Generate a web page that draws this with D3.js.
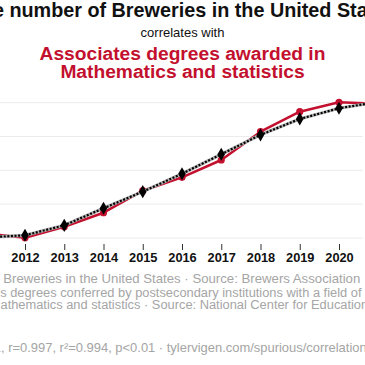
<!DOCTYPE html>
<html>
<head>
<meta charset="utf-8">
<script src="https://cdn.jsdelivr.net/npm/d3@7"></script>
<style>
  html, body { margin:0; padding:0; background:#fff; overflow:hidden; }
  svg { display:block; font-family:"Liberation Sans", Arial, Helvetica, sans-serif; }
</style>
</head>
<body>
<svg id="chart" width="365" height="365"></svg>
<script>
// data
const years = [2011, 2012, 2013, 2014, 2015, 2016, 2017, 2018, 2019, 2020, 2021];
const breweries = [2030, 2160, 2750, 3760, 4740, 5800, 6950, 8100, 9040, 9670, 10050];
const degrees = [1066, 1004, 1167, 1374, 1699, 1897, 2153, 2571, 2867, 3006, 2984];
const gridTicks = [2000, 4000, 6000, 8000, 10000];
const yearTicks = [2012, 2013, 2014, 2015, 2016, 2017, 2018, 2019, 2020];

const red = '#c3102e';
const svg = d3.select('#chart');
const W = 365;

// scales
const x = d3.scaleLinear().domain([2012, 2020]).range([25, 339]);
const y1 = d3.scaleLinear().domain([2000, 10000]).range([238, 102.7]);
const y2 = d3.scaleLinear().domain([1000, 3000]).range([238, 102.7]);

// titles
svg.append('text').attr('x', W/2).attr('y', 16.5).attr('text-anchor','middle')
  .attr('font-size', 19.8).attr('font-weight','bold').attr('fill','#111')
  .text('The number of Breweries in the United States');
svg.append('text').attr('x', W/2).attr('y', 37).attr('text-anchor','middle')
  .attr('font-size', 13).attr('fill','#111').text('correlates with');
['Associates degrees awarded in', 'Mathematics and statistics'].forEach((t,i) => {
  svg.append('text').attr('x', W/2).attr('y', 60 + i*17.6).attr('text-anchor','middle')
    .attr('font-size', 19.2).attr('font-weight','bold').attr('fill', red).text(t);
});

// gridlines
svg.append('g').selectAll('line').data(gridTicks).enter().append('line')
  .attr('x1', 0).attr('x2', 363).attr('y1', d=>y1(d)).attr('y2', d=>y1(d))
  .attr('stroke','#ececec').attr('stroke-width',1);

// x axis (no domain line)
const xAxis = svg.append('g').attr('transform','translate(0,244)')
  .call(d3.axisBottom(x).tickValues(yearTicks).tickFormat(d3.format('d')).tickSize(6).tickPadding(3));
xAxis.select('.domain').remove();
xAxis.selectAll('line').attr('stroke','#333');
xAxis.selectAll('text').attr('font-size', 12.8).attr('font-weight','bold').attr('fill','#111')
  .attr('font-family','"Liberation Sans", Arial, sans-serif');

// red series
const redLine = d3.line().x((d,i)=>x(years[i])).y(d=>y2(d));
svg.append('path').datum(degrees).attr('d', redLine)
  .attr('fill','none').attr('stroke', red).attr('stroke-width', 2.5).attr('stroke-linejoin','round');
svg.append('g').selectAll('circle').data(degrees).enter().append('circle')
  .attr('cx',(d,i)=>x(years[i])).attr('cy', d=>y2(d)).attr('r', 3.6).attr('fill', red);

// black series: grey halo under a dotted line
const blackLine = d3.line().x((d,i)=>x(years[i])).y(d=>y1(d));
svg.append('path').datum(breweries).attr('d', blackLine)
  .attr('fill','none').attr('stroke','#b0b0b0').attr('stroke-width', 3.2);
svg.append('path').datum(breweries).attr('d', blackLine)
  .attr('fill','none').attr('stroke','#000').attr('stroke-width', 2.2).attr('stroke-dasharray','2,1.6');
svg.append('g').selectAll('path').data(breweries).enter().append('path')
  .attr('transform',(d,i)=>`translate(${x(years[i])},${y1(d)})`)
  .attr('d', d3.symbol().type(d3.symbolDiamond).size(50)).attr('fill','#000');

// footer: texts are left-aligned off the visible area, placed so the visible part lines up
function footer(str, prefix, targetX, y, size) {
  const t = svg.append('text').attr('y', y).attr('font-size', size).attr('fill','#a5a5a5').text(str);
  const w = prefix.length ? t.node().getSubStringLength(0, prefix.length) : 0;
  t.attr('x', targetX - w);
}
footer('The number of Breweries in the United States · Source: Brewers Association', 'The number of ', 3.3, 283, 13.2);
footer('Associates degrees conferred by postsecondary institutions with a field of study of', 'Associate', 0.2, 296.5, 12.85);
footer('Mathematics and statistics · Source: National Center for Education Statistics', 'M', 0.5, 308.5, 12.85);
footer('2011-2021, r=0.997, r²=0.994, p<0.01 · tylervigen.com/spurious/correlation/1234_the-number-of-breweries', '2011-2021', 1, 352, 12.95);
</script>
</body>
</html>
